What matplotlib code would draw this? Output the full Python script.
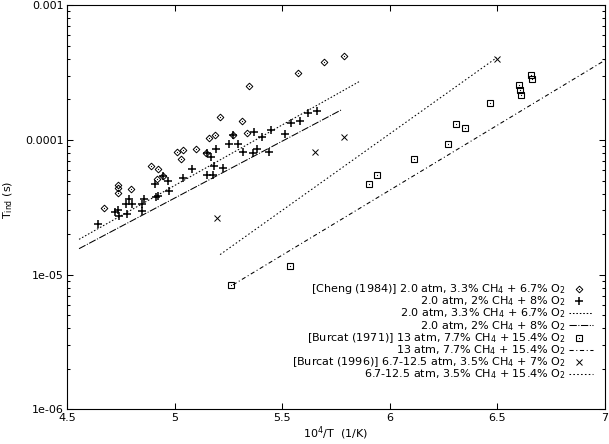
import matplotlib
matplotlib.use('Agg')
import matplotlib.pyplot as plt
from matplotlib.ticker import LogLocator, NullFormatter, FixedLocator, NullLocator

plt.rcParams['font.family'] = ['DejaVu Sans']
plt.rcParams['mathtext.fontset'] = 'dejavusans'

# ---------------- data ----------------
cheng33_x = [4.671, 4.739, 4.739, 4.739, 4.798, 4.889, 4.923, 4.920, 4.945, 5.010,
             5.038, 5.029, 5.099, 5.147, 5.162, 5.188, 5.212, 5.271, 5.315, 5.336,
             5.345, 5.574, 5.695, 5.790]
cheng33_y = [3.15e-5, 4.61e-5, 4.43e-5, 4.07e-5, 4.33e-5, 6.41e-5, 6.06e-5, 5.17e-5, 5.44e-5, 8.15e-5,
             8.49e-5, 7.19e-5, 8.58e-5, 8.04e-5, 1.035e-4, 1.097e-4, 1.474e-4, 1.084e-4, 1.384e-4, 1.135e-4,
             2.52e-4, 3.13e-4, 3.77e-4, 4.20e-4]

cheng2_x = [4.643, 4.723, 4.736, 4.742, 4.780, 4.773, 4.790, 4.801, 4.847, 4.860,
            4.849, 4.908, 4.913, 4.925, 4.945, 4.971, 4.974, 5.038, 5.080, 5.151,
            5.180, 5.170, 5.185, 5.193, 5.151, 5.224, 5.271, 5.252, 5.294, 5.317,
            5.371, 5.406, 5.364, 5.385, 5.440, 5.449, 5.514, 5.540, 5.584, 5.622, 5.661]
cheng2_y = [2.39e-5, 2.91e-5, 3.01e-5, 2.71e-5, 2.81e-5, 3.33e-5, 3.67e-5, 3.33e-5, 3.37e-5, 3.65e-5,
            2.96e-5, 4.69e-5, 3.77e-5, 3.84e-5, 5.44e-5, 5.00e-5, 4.18e-5, 5.26e-5, 6.06e-5, 5.50e-5,
            5.50e-5, 7.48e-5, 6.38e-5, 8.53e-5, 8.04e-5, 6.24e-5, 1.084e-4, 9.40e-5, 9.29e-5, 8.15e-5,
            1.147e-4, 1.053e-4, 8.01e-5, 8.58e-5, 8.15e-5, 1.195e-4, 1.116e-4, 1.337e-4, 1.377e-4,
            1.597e-4, 1.641e-4]

fit_cheng33_x = [4.556, 5.860]
fit_cheng33_y = [1.83e-5, 2.72e-4]
fit_cheng2_x = [4.556, 5.778]
fit_cheng2_y = [1.56e-5, 1.68e-4]

burcat71_x = [5.261, 5.536, 5.903, 5.942, 6.115, 6.273, 6.311, 6.351, 6.469,
              6.602, 6.607, 6.613, 6.660, 6.664]
burcat71_y = [8.44e-6, 1.154e-5, 4.75e-5, 5.53e-5, 7.28e-5, 9.40e-5, 1.324e-4, 1.228e-4, 1.897e-4,
              2.58e-4, 2.35e-4, 2.14e-4, 3.02e-4, 2.82e-4]
fit_burcat71_x = [5.272, 7.0]
fit_burcat71_y = [8.41e-6, 3.89e-4]

burcat96_x = [5.199, 5.655, 5.790, 6.499]
burcat96_y = [2.65e-5, 8.17e-5, 1.06e-4, 4.02e-4]
fit_burcat96_x = [5.212, 6.499]
fit_burcat96_y = [1.41e-5, 4.09e-4]

x_ticks = [4.5, 5, 5.5, 6, 6.5, 7]
x_tick_labels = ['4.5', '5', '5.5', '6', '6.5', '7']
y_ticks = [1e-6, 1e-5, 1e-4, 1e-3]
y_tick_labels = ['1e-06', '1e-05', '0.0001', '0.001']

labels = [
    "[Cheng (1984)] 2.0 atm, 3.3% CH$_4$ + 6.7% O$_2$",
    "2.0 atm, 2% CH$_4$ + 8% O$_2$",
    "2.0 atm, 3.3% CH$_4$ + 6.7% O$_2$",
    "2.0 atm, 2% CH$_4$ + 8% O$_2$",
    "[Burcat (1971)] 13 atm, 7.7% CH$_4$ + 15.4% O$_2$",
    "13 atm, 7.7% CH$_4$ + 15.4% O$_2$",
    "[Burcat (1996)] 6.7-12.5 atm, 3.5% CH$_4$ + 7% O$_2$",
    "6.7-12.5 atm, 3.5% CH$_4$ + 15.4% O$_2$",
]

# ---------------- figure ----------------
W, H = 609, 444
fig = plt.figure(figsize=(W / 100, H / 100), dpi=100)
L, R, T, B = 67, 604.5, 5.3, 409.4
ax = fig.add_axes([L / W, (H - B) / H, (R - L) / W, (B - T) / H])

FS = 8
lw = 0.75

ls_c33 = (0, (1.5, 1.8))
ls_c2 = (0, (7, 1.5, 1, 1.5))
ls_b71 = (0, (4, 2.5, 1, 2.5))
ls_b96 = (0, (1.5, 2.2))

style_dia = dict(marker='D', ms=3.4, mfc='none', mec='k', mew=0.7, ls='none')
style_sq = dict(marker='s', ms=4.2, mfc='none', mec='k', mew=0.8, ls='none')
style_plus = dict(marker='+', ms=6, mec='k', mew=1.1, ls='none')
style_x = dict(marker='x', ms=3.8, mec='k', mew=0.7, ls='none')
style_dot = dict(marker='o', ms=0.9, mfc='k', mec='k', mew=0, ls='none')

ax.plot(cheng33_x, cheng33_y, **style_dia)
ax.plot(cheng33_x, cheng33_y, **style_dot)
ax.plot(cheng2_x, cheng2_y, **style_plus)
ax.plot(fit_cheng33_x, fit_cheng33_y, color='k', lw=lw, ls=ls_c33)
ax.plot(fit_cheng2_x, fit_cheng2_y, color='k', lw=lw, ls=ls_c2)
ax.plot(burcat71_x, burcat71_y, **style_sq)
ax.plot(burcat71_x, burcat71_y, **style_dot)
ax.plot(fit_burcat71_x, fit_burcat71_y, color='k', lw=lw, ls=ls_b71)
ax.plot(burcat96_x, burcat96_y, **style_x)
ax.plot(fit_burcat96_x, fit_burcat96_y, color='k', lw=lw, ls=ls_b96)

ax.set_yscale('log')
ax.set_xlim(4.5, 7)
ax.set_ylim(1e-6, 1e-3)
ax.set_xticks(x_ticks)
ax.set_xticklabels(x_tick_labels)
ax.xaxis.set_minor_locator(NullLocator())
ax.yaxis.set_major_locator(FixedLocator(y_ticks))
ax.set_yticklabels(y_tick_labels)
ax.yaxis.set_minor_locator(LogLocator(base=10, subs=range(2, 10)))
ax.yaxis.set_minor_formatter(NullFormatter())

ax.tick_params(which='both', direction='in', top=True, right=True, labelsize=FS, width=0.75)
ax.tick_params(which='major', length=4.3, pad=2.5)
ax.tick_params(which='minor', length=2.2)
for s in ax.spines.values():
    s.set_linewidth(0.8)

ax.set_xlabel("10$^4$/T  (1/K)", fontsize=FS)
ax.xaxis.set_label_coords(0.5, (B - 424) / (B - T))
ax.set_ylabel("T$_{\\mathrm{ind}}$ (s)", fontsize=FS)
ax.yaxis.set_label_coords((15 - L) / (R - L), (B - 200) / (B - T))

# ---------------- legend (gnuplot style, right-aligned text) ----------------
def fx(px):
    return px / W

def fy(py):
    return (H - py) / H

row0, dy = 289.0, 12.14
text_right = 565.5
samp_l, samp_r, samp_c = 569, 593, 578.7
handles = [
    ('m', [style_dia, style_dot]),
    ('m', [style_plus]),
    ('l', ls_c33),
    ('l', ls_c2),
    ('m', [style_sq, style_dot]),
    ('l', ls_b71),
    ('m', [style_x]),
    ('l', ls_b96),
]
for i, (lab, (kind, st)) in enumerate(zip(labels, handles)):
    py = row0 + i * dy
    fig.text(fx(text_right), fy(py + 3.3), lab, ha='right', va='baseline', fontsize=FS)
    if kind == 'm':
        for s in st:
            fig.add_artist(plt.Line2D([fx(samp_c)], [fy(py)], transform=fig.transFigure, **s))
    else:
        fig.add_artist(plt.Line2D([fx(samp_l), fx(samp_r)], [fy(py), fy(py)],
                                  transform=fig.transFigure, color='k', lw=lw, ls=st))

fig.savefig('out.png', dpi=100)
